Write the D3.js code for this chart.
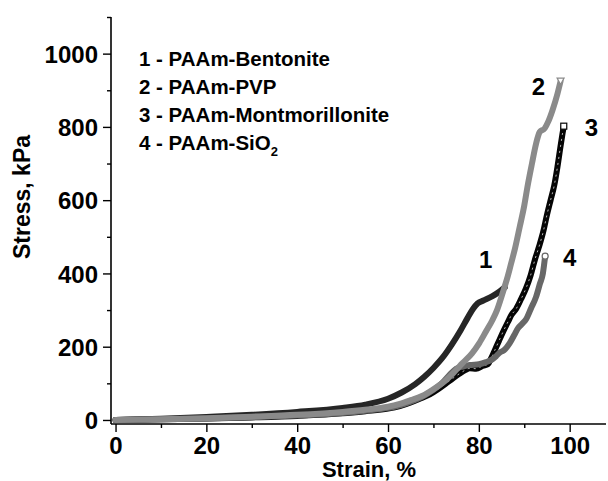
<!DOCTYPE html>
<html>
<head>
<meta charset="utf-8">
<script src="https://cdn.jsdelivr.net/npm/d3@7"></script>
<style>
  body { margin: 0; background: #fff; }
  svg { display: block; }
  text { font-family: "Liberation Sans", Arial, sans-serif; font-weight: bold; }
</style>
</head>
<body>
<svg id="chart" width="608" height="481"></svg>
<script>
// strain (%) / stress (kPa)
const bentoniteStrain = [0, 10, 20, 30, 40, 50, 55, 60, 63, 66, 68, 70, 72, 74, 76, 77.5, 78.7, 79.7, 81, 83, 84.5, 85.7];
const bentoniteStress = [0, 3, 8, 14, 22, 33, 42, 58, 75, 98, 118, 142, 170, 205, 245, 278, 303, 318, 326, 338, 350, 362];

const pvpStrain = [0, 10, 20, 30, 40, 50, 55, 60, 62.6, 65, 67.6, 70, 72.8, 74.5, 76.4, 78.5, 80.1, 81.5, 83, 84, 85.2, 86.2, 87.1, 88, 89, 90, 90.7, 91.7, 92.6, 93.4, 94.5, 95.3, 96.2, 97.3, 98];
const pvpStress = [0, 2, 5, 9, 14, 22, 28, 36, 44, 54, 66, 84, 109, 130, 155, 182, 210, 240, 273, 300, 345, 385, 427, 470, 527, 585, 636, 700, 754, 786, 796, 815, 845, 890, 925];

const montStrain = [0, 10, 20, 30, 40, 50, 55, 60, 62.6, 65, 67, 69.2, 71, 72.8, 74.3, 75.7, 77, 78, 79.4, 80.9, 82, 82.7, 83.5, 84.4, 85.5, 86.5, 87.2, 88.2, 89.3, 90.4, 91.4, 92.4, 93.3, 94.2, 95, 95.8, 96.6, 97.3, 97.9, 98.4, 98.7];
const montStress = [0, 2, 4, 7, 11, 18, 24, 31, 38, 48, 58, 70, 84, 100, 114, 126, 136, 141, 140, 148, 152, 168, 190, 215, 245, 270, 287, 303, 330, 360, 395, 440, 475, 515, 560, 600, 640, 690, 740, 780, 802];

const sioStrain = [0, 10, 20, 30, 40, 50, 55, 60, 62.6, 65, 67.6, 70, 72, 73.6, 75, 76.5, 78, 80, 81.6, 83, 83.8, 84.6, 85.5, 86.8, 87.8, 88.6, 89.5, 90.4, 91.5, 92.6, 93.4, 94.1, 94.6];
const sioStress = [0, 2, 4, 8, 12, 19, 25, 33, 40, 50, 64, 82, 102, 124, 140, 146, 150, 152, 158, 166, 174, 184, 190, 210, 232, 250, 262, 275, 305, 336, 370, 400, 447];

const legendLabels = ["1 - PAAm-Bentonite", "2 - PAAm-PVP", "3 - PAAm-Montmorillonite", "4 - PAAm-SiO"];
const curveNumbers = ["1", "2", "3", "4"];
const curveLabelStrain = [81.5, 93.1, 104.8, 100];
const curveLabelStress = [439, 911, 799, 445];

const xMajor = [0, 20, 40, 60, 80, 100];
const xMinor = [10, 30, 50, 70, 90];
const yMajor = [0, 200, 400, 600, 800, 1000];
const yMinor = [100, 300, 500, 700, 900, 1100];

const svg = d3.select("#chart");

const x = d3.scaleLinear().domain([-1, 108]).range([111, 606]);
const y = d3.scaleLinear().domain([-11, 1100]).range([424, 17]);

const series = [
  { strain: bentoniteStrain, stress: bentoniteStress, color: "#262626", marker: null },
  { strain: montStrain, stress: montStress, color: "#050505", marker: "square" },
  { strain: sioStrain, stress: sioStress, color: "#676767", marker: "circle" },
  { strain: pvpStrain, stress: pvpStress, color: "#8a8a8a", marker: "triangle" }
];

const line = d3.line()
  .x(d => x(d[0]))
  .y(d => y(d[1]))
  .curve(d3.curveMonotoneX);

series.forEach(s => {
  const pts = s.strain.map((v, i) => [v, s.stress[i]]);
  svg.append("path")
    .attr("d", line(pts))
    .attr("fill", "none")
    .attr("stroke", s.color)
    .attr("stroke-width", 6)
    .attr("stroke-linejoin", "round")
    .attr("stroke-linecap", "round");

  // montmorillonite curve is drawn with packed open squares, fake the speckle
  if (s.marker === "square") {
    svg.append("path")
      .attr("d", line(pts.filter(p => p[0] > 60)))
      .attr("fill", "none")
      .attr("stroke", "#fff")
      .attr("stroke-width", 1)
      .attr("stroke-dasharray", "2,4")
      .attr("opacity", 0.7);
  }

  const last = pts[pts.length - 1];
  const cx = x(last[0]), cy = y(last[1]);
  if (s.marker === "square") {
    svg.append("rect")
      .attr("x", cx - 3).attr("y", cy - 3)
      .attr("width", 6).attr("height", 6)
      .attr("fill", "#fff").attr("stroke", s.color).attr("stroke-width", 1.2);
  } else if (s.marker === "circle") {
    svg.append("circle")
      .attr("cx", cx).attr("cy", cy).attr("r", 3)
      .attr("fill", "#fff").attr("stroke", s.color).attr("stroke-width", 1.2);
  } else if (s.marker === "triangle") {
    svg.append("path")
      .attr("d", `M${cx - 3.5},${cy - 3}L${cx + 3.5},${cy - 3}L${cx},${cy + 3.5}Z`)
      .attr("fill", "#fff").attr("stroke", s.color).attr("stroke-width", 1.2);
  }
});

// axes
const xAxis = svg.append("g").attr("transform", "translate(0,424)");
xAxis.call(d3.axisBottom(x).tickValues(xMajor).tickSize(8).tickSizeOuter(0).tickFormat(d3.format("d")));
xAxis.append("g").call(d3.axisBottom(x).tickValues(xMinor).tickSize(4).tickFormat(""));
xAxis.selectAll(".domain").remove();
xAxis.append("line").attr("x1", 111).attr("x2", 606).attr("stroke", "#000").attr("stroke-width", 1.6);

const yAxis = svg.append("g").attr("transform", "translate(111,0)");
yAxis.call(d3.axisLeft(y).tickValues(yMajor).tickSize(8).tickSizeOuter(0).tickFormat(d3.format("d")));
yAxis.append("g").call(d3.axisLeft(y).tickValues(yMinor).tickSize(4).tickFormat(""));
yAxis.selectAll(".domain").remove();
yAxis.append("line").attr("y1", 17).attr("y2", 424).attr("stroke", "#000").attr("stroke-width", 1.6);

svg.selectAll(".tick line").attr("stroke", "#000").attr("stroke-width", 1.4);
xAxis.selectAll(".tick text")
  .attr("y", 13).attr("dy", "0.71em")
  .style("font-size", "24px").attr("fill", "#000");
yAxis.selectAll(".tick text")
  .attr("x", -13).attr("dy", "0.36em")
  .style("font-size", "24px").attr("fill", "#000");

// axis titles
svg.append("text")
  .attr("x", 369).attr("y", 477)
  .attr("text-anchor", "middle")
  .style("font-size", "22px")
  .text("Strain, %");

svg.append("text")
  .attr("transform", "translate(30,197) rotate(-90)")
  .attr("text-anchor", "middle")
  .style("font-size", "23px")
  .text("Stress, kPa");

// legend
legendLabels.forEach((t, i) => {
  const txt = svg.append("text")
    .attr("x", 139).attr("y", 66 + i * 28)
    .style("font-size", "20.5px")
    .text(t);
  if (i === 3) {
    txt.append("tspan").attr("dy", 6).style("font-size", "13px").text("2");
  }
});

// curve numbers
curveNumbers.forEach((t, i) => {
  svg.append("text")
    .attr("x", x(curveLabelStrain[i])).attr("y", y(curveLabelStress[i]))
    .attr("text-anchor", "middle").attr("dy", "0.36em")
    .style("font-size", "24px")
    .text(t);
});
</script>
</body>
</html>
